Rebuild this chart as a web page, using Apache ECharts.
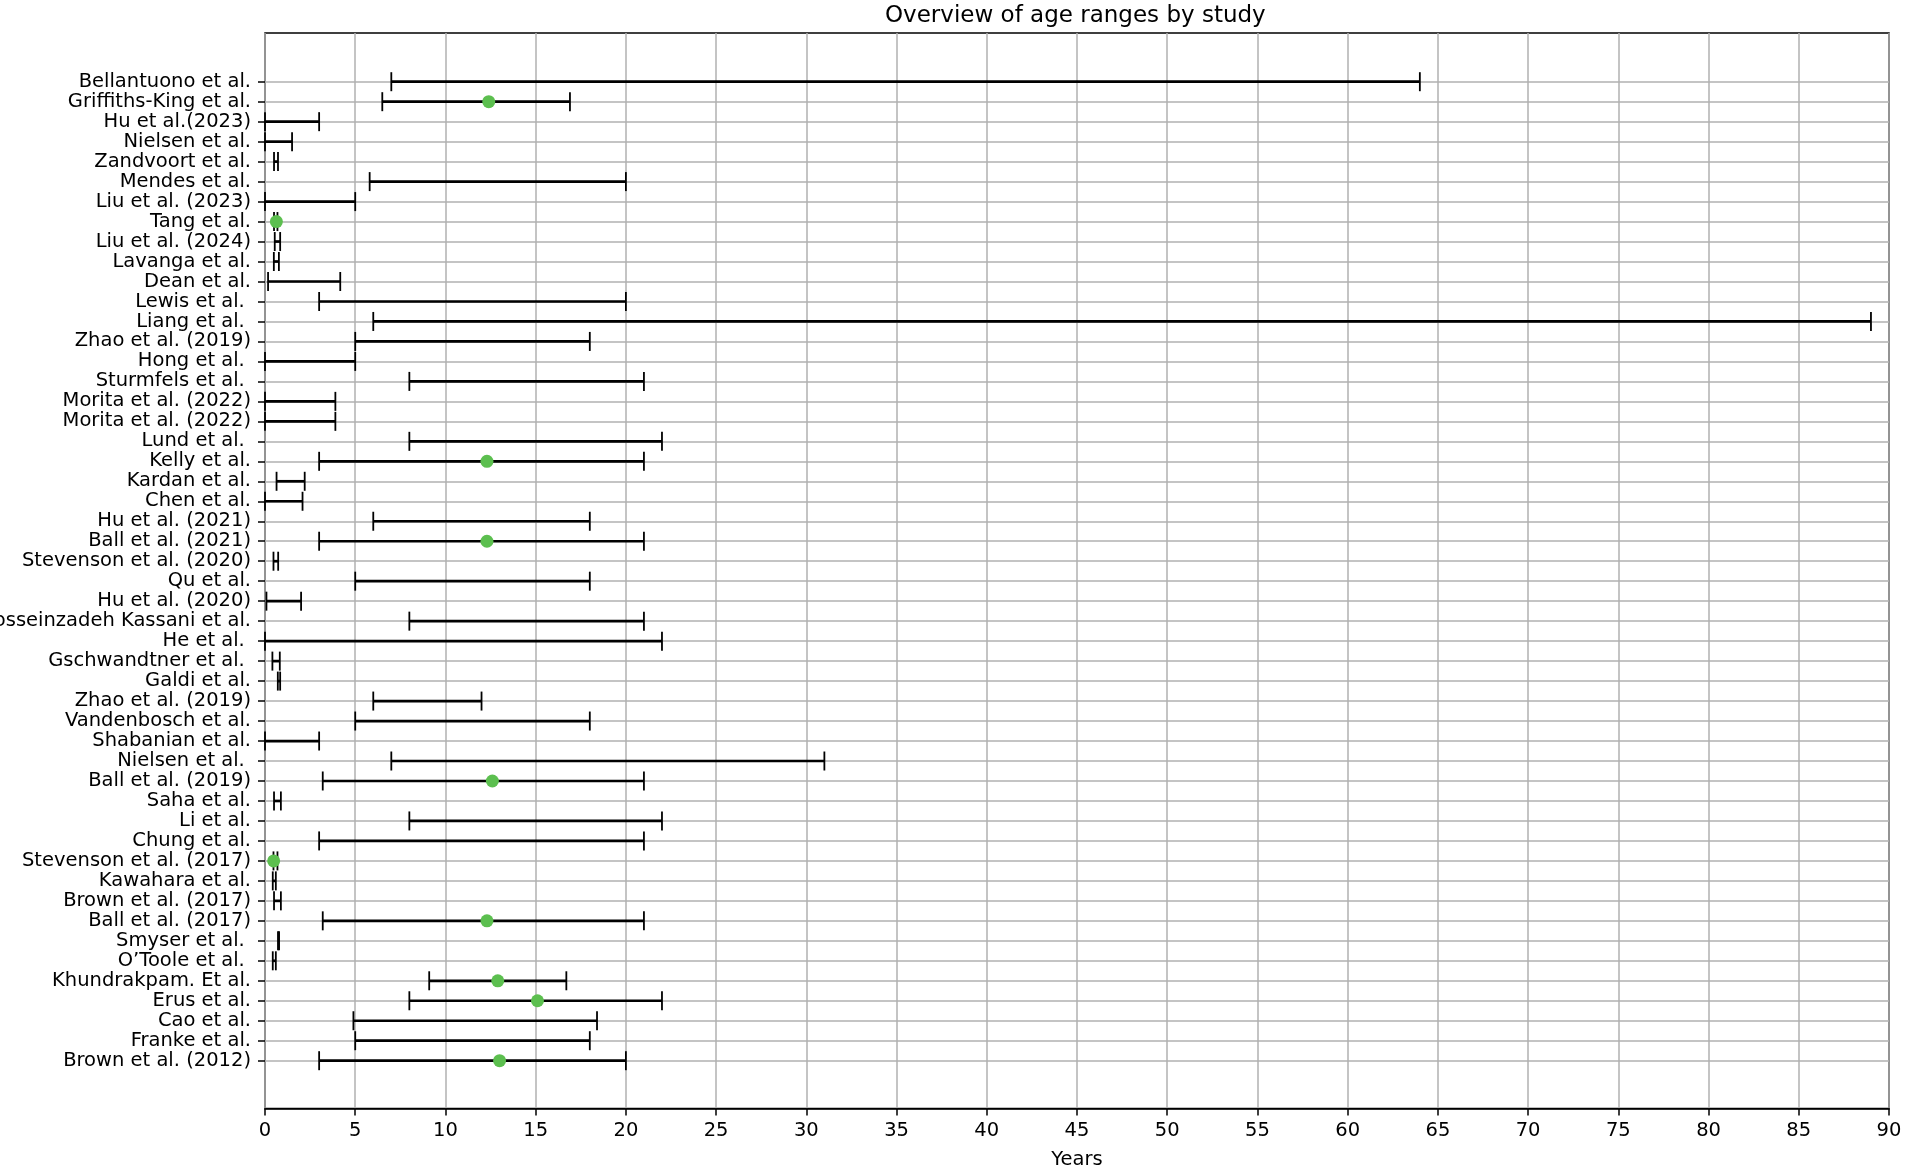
<!DOCTYPE html>
<html>
<head>
<meta charset="utf-8">
<script src="https://cdn.jsdelivr.net/npm/echarts@6/dist/echarts.min.js"></script>
<style>
html,body{margin:0;padding:0;background:#fff;}
#chart{width:1907px;height:1169px;}
</style>
</head>
<body>
<div id="chart"></div>
<script>
const studies = [
  'Bellantuono et al.', 'Griffiths-King et al.', 'Hu et al.(2023)', 'Nielsen et al.', 'Zandvoort et al.',
  'Mendes et al.', 'Liu et al. (2023)', 'Tang et al.', 'Liu et al. (2024)', 'Lavanga et al.',
  'Dean et al.', 'Lewis et al. ', 'Liang et al. ', 'Zhao et al. (2019)', 'Hong et al. ',
  'Sturmfels et al. ', 'Morita et al. (2022)', 'Morita et al. (2022)', 'Lund et al. ', 'Kelly et al.',
  'Kardan et al.', 'Chen et al.', 'Hu et al. (2021)', 'Ball et al. (2021)', 'Stevenson et al. (2020)',
  'Qu et al.', 'Hu et al. (2020)', 'Hosseinzadeh Kassani et al.', 'He et al. ', 'Gschwandtner et al. ',
  'Galdi et al.', 'Zhao et al. (2019)', 'Vandenbosch et al.', 'Shabanian et al.', 'Nielsen et al. ',
  'Ball et al. (2019)', 'Saha et al.', 'Li et al.', 'Chung et al.', 'Stevenson et al. (2017)',
  'Kawahara et al.', 'Brown et al. (2017)', 'Ball et al. (2017)', 'Smyser et al. ', 'O\u2019Toole et al. ',
  'Khundrakpam. Et al.', 'Erus et al.', 'Cao et al.', 'Franke et al.', 'Brown et al. (2012)'
];
const minAge = [
  7, 6.5, 0, 0, 0.5,
  5.8, 0, 0.5, 0.54, 0.49,
  0.17, 3, 6, 5, 0,
  8, 0, 0, 8, 3,
  0.64, 0, 6, 3, 0.47,
  5, 0.08, 8, 0, 0.41,
  0.71, 6, 5, 0, 7,
  3.2, 0.5, 8, 3, 0.47,
  0.43, 0.5, 3.2, 0.72, 0.43,
  9.1, 8, 4.9, 5, 3
];
const maxAge = [
  64, 16.9, 3, 1.5, 0.72,
  20, 5, 0.69, 0.84, 0.77,
  4.17, 20, 89, 18, 5,
  21, 3.9, 3.9, 22, 21,
  2.2, 2.08, 18, 21, 0.73,
  18, 2, 21, 22, 0.82,
  0.84, 12, 18, 3, 31,
  21, 0.88, 22, 21, 0.69,
  0.6, 0.88, 21, 0.78, 0.6,
  16.7, 22, 18.4, 18, 20
];
const meanAge = [
  null, 12.4, null, null, null,
  null, null, 0.63, null, null,
  null, null, null, null, null,
  null, null, null, null, 12.3,
  null, null, null, 12.3, null,
  null, null, null, null, null,
  null, null, null, null, null,
  12.6, null, null, null, 0.48,
  null, null, 12.3, null, null,
  12.9, 15.1, null, null, 13
];
const xTicks = {min: 0, max: 90, interval: 5};

const FONT = 'DejaVu Sans';
const rangeData = studies.map((s, i) => [minAge[i], maxAge[i], i]);
const meanData = [];
meanAge.forEach((m, i) => { if (m !== null) meanData.push([m, i]); });

const chart = echarts.init(document.getElementById('chart'), null, {renderer: 'canvas'});
const L = 265, R = 18;
chart.setOption({
  animation: false,
  backgroundColor: '#fff',
  title: {
    text: 'Overview of age ranges by study',
    left: 885, top: 5, padding: 0,
    textStyle: {fontFamily: FONT, fontSize: 23, fontWeight: 'normal', color: '#000'}
  },
  grid: [
    {left: L, right: R, top: 33, bottom: 60.5, show: true, borderColor: '#000', borderWidth: 1.5,
     backgroundColor: 'transparent', containLabel: false, outerBoundsMode: 'none'},
    {left: L, right: R, top: 81.7, bottom: 108.3, containLabel: false, outerBoundsMode: 'none'}
  ],
  xAxis: [
    {
      gridIndex: 0, type: 'value', min: xTicks.min, max: xTicks.max, interval: xTicks.interval,
      name: 'Years', nameLocation: 'middle', nameGap: 41,
      nameTextStyle: {fontFamily: FONT, fontSize: 19.5, color: '#000'},
      axisLine: {show: true, lineStyle: {color: '#000', width: 1.5}},
      axisTick: {show: true, length: 7, lineStyle: {color: '#000', width: 1.5}},
      axisLabel: {fontFamily: FONT, fontSize: 19.5, color: '#000', margin: 12},
      splitLine: {show: true, lineStyle: {color: '#b0b0b0', width: 1.5}}
    },
    {
      gridIndex: 1, type: 'value', min: xTicks.min, max: xTicks.max, show: false,
      splitLine: {show: false}
    }
  ],
  yAxis: [
    {gridIndex: 0, type: 'value', show: false, min: 0, max: 1, splitLine: {show: false}},
    {
      gridIndex: 1, type: 'category', data: studies, inverse: true, boundaryGap: false,
      axisLine: {show: false},
      axisTick: {show: true, interval: 0, length: 7, lineStyle: {color: '#000', width: 1.5}},
      axisLabel: {interval: 0, fontFamily: FONT, fontSize: 19.5, color: '#000', margin: 14},
      splitLine: {show: true, interval: 0, lineStyle: {color: '#b0b0b0', width: 1.5}}
    }
  ],
  series: [
    {
      type: 'custom', xAxisIndex: 1, yAxisIndex: 1, z: 3,
      encode: {x: [0, 1], y: 2},
      data: rangeData,
      renderItem: function (params, api) {
        const p1 = api.coord([api.value(0), api.value(2)]);
        const p2 = api.coord([api.value(1), api.value(2)]);
        const h = 9.5;
        return {
          type: 'group',
          children: [
            {type: 'line', shape: {x1: p1[0], y1: p1[1], x2: p2[0], y2: p2[1]}, style: {stroke: '#000', lineWidth: 2.7}},
            {type: 'line', shape: {x1: p1[0], y1: p1[1] - h, x2: p1[0], y2: p1[1] + h}, style: {stroke: '#000', lineWidth: 1.8}},
            {type: 'line', shape: {x1: p2[0], y1: p2[1] - h, x2: p2[0], y2: p2[1] + h}, style: {stroke: '#000', lineWidth: 1.8}}
          ]
        };
      }
    },
    {
      type: 'scatter', xAxisIndex: 1, yAxisIndex: 1, z: 4,
      data: meanData, symbol: 'circle', symbolSize: 13,
      itemStyle: {color: '#5cbf4f', opacity: 1}
    }
  ]
});
</script>
</body>
</html>
